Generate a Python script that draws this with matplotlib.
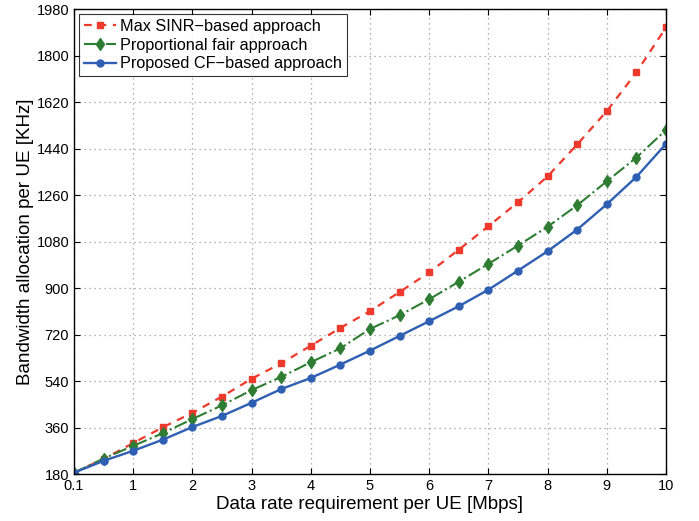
import matplotlib
matplotlib.use("Agg")
import matplotlib.pyplot as plt
import numpy as np

plt.rcParams['font.family'] = ['Liberation Sans', 'DejaVu Sans']

rates = [0.1, 0.5, 1, 1.5, 2, 2.5, 3, 3.5, 4, 4.5, 5, 5.5, 6, 6.5, 7, 7.5, 8, 8.5, 9, 9.5, 10]
max_sinr = [185, 238, 300, 361, 417, 480, 549, 609, 677, 746, 811, 885, 961, 1049, 1140, 1233, 1333, 1457, 1586, 1736, 1910]
prop_fair = [185, 240, 289, 338, 393, 446, 505, 556, 613, 667, 742, 795, 857, 925, 994, 1065, 1138, 1221, 1314, 1406, 1513]
proposed = [185, 231, 270, 313, 362, 405, 456, 509, 552, 604, 658, 715, 772, 830, 894, 968, 1043, 1127, 1225, 1331, 1459]

xtick_labels = ['0.1', '1', '2', '3', '4', '5', '6', '7', '8', '9', '10']
ytick_values = [180, 360, 540, 720, 900, 1080, 1260, 1440, 1620, 1800, 1980]

# first sample (0.1 Mbps) is drawn at the axis origin position
xpos = [0 if r == 0.1 else r for r in rates]
xtick_pos = [0 if float(t) == 0.1 else float(t) for t in xtick_labels]

fig = plt.figure(figsize=(6.99, 5.21), dpi=100)
ax = fig.add_axes([74/699, 1-474/521, (666-74)/699, (474-9.4)/521])

ax.plot(xpos, max_sinr, linestyle=(0, (3.5, 3)), color='#EE3A2C', marker='s', markersize=4.5,
        linewidth=1.6, label='Max SINR\u2212based approach')
ax.plot(xpos, prop_fair, linestyle='-.', color='#2E7D32', marker='d', markersize=6,
        linewidth=1.5, label='Proportional fair approach')
ax.plot(xpos, proposed, linestyle='-', color='#2F5FB3', marker='o', markersize=5,
        linewidth=1.7, label='Proposed CF\u2212based approach')

ax.set_xlim(0, 10)
ax.set_ylim(180, 1980)
ax.set_xticks(xtick_pos)
ax.set_xticklabels(xtick_labels)
ax.set_yticks(ytick_values)
ax.tick_params(direction='in', top=True, right=True, labelsize=10.5, length=4, width=0.8)
ax.grid(True, linestyle=(0, (1, 3)), color='#999999', linewidth=0.9)
for s in ax.spines.values():
    s.set_linewidth(1.0)
    s.set_color('black')

ax.set_xlabel('Data rate requirement per UE [Mbps]', fontsize=13.5, labelpad=2)
ax.set_ylabel('Bandwidth allocation per UE [KHz]', fontsize=13.5, labelpad=2)

leg = ax.legend(loc='upper left', fontsize=11.7, frameon=True, fancybox=False,
                borderaxespad=0.3, handlelength=2.0, borderpad=0.3, labelspacing=0.22,
                handletextpad=0.25)
leg.get_frame().set_edgecolor('black')
leg.get_frame().set_linewidth(0.8)

fig.savefig('out.png', dpi=100)
